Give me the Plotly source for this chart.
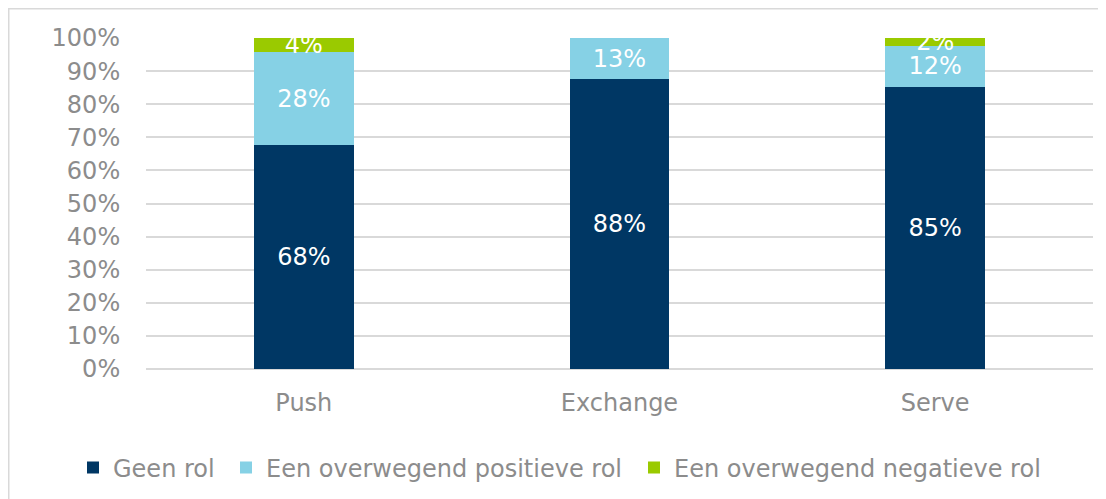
import math
import plotly.graph_objects as go

categories = ["Push", "Exchange", "Serve"]
series_names = ["Geen rol", "Een overwegend positieve rol", "Een overwegend negatieve rol"]
geen_rol = [67.6, 87.5, 85.2]
positief = [28.2, 12.5, 12.4]
negatief = [4.2, 0.0, 2.4]
colors = ["#003764", "#86D1E5", "#9ACA00"]
tick_vals = [0, 10, 20, 30, 40, 50, 60, 70, 80, 90, 100]
tick_text = [f"{v}%" for v in tick_vals]

FONT = "DejaVu Sans, Verdana, sans-serif"
GRAY = "#8C8C8C"
FS = 24


def label(v):
    return f"{int(math.floor(v + 0.5))}%" if v > 0 else ""


# page body has an 8px margin; figure is sized to fit inside the window
W, H = 1098, 491
L, R, T = 138, 13, 30
B = H - 361
pw = W - L - R
ph = H - T - B

legend_ids = ["legend", "legend2", "legend3"]
legend_text_x = [115, 268, 676]  # window px where legend text starts

fig = go.Figure()
for name, vals, col, lid in zip(series_names, [geen_rol, positief, negatief], colors, legend_ids):
    fig.add_trace(go.Bar(
        x=categories, y=vals, name=name, legend=lid,
        marker=dict(color=col, line=dict(width=0)),
        text=[label(v) for v in vals],
        textposition="inside", insidetextanchor="middle", textangle=0,
        textfont=dict(color="white", size=FS, family=FONT),
        hoverinfo="skip",
    ))

legend_common = dict(orientation="h", xref="container", yref="container",
                     xanchor="left", yanchor="middle", y=1 - 460 / H,
                     font=dict(size=FS, color=GRAY, family=FONT),
                     itemwidth=30, bgcolor="rgba(0,0,0,0)", borderwidth=0)
legends = {}
for lid, tx in zip(legend_ids, legend_text_x):
    legends[lid] = dict(legend_common, x=(tx - 8 - 42) / W)

fig.update_layout(
    barmode="stack", bargap=0.684,
    width=W, height=H,
    margin=dict(l=L, r=R, t=T, b=B, pad=0, autoexpand=False),
    paper_bgcolor="white", plot_bgcolor="white",
    font=dict(family=FONT, size=FS, color=GRAY),
    uniformtext=dict(mode="show", minsize=FS),
    showlegend=True,
    **legends,
    xaxis=dict(showgrid=False, showline=False, ticks="outside", ticklen=12,
               tickcolor="rgba(0,0,0,0)", tickfont=dict(size=FS, color=GRAY)),
    yaxis=dict(range=[0, 100], tickvals=tick_vals, ticktext=tick_text,
               showgrid=True, gridcolor="#D9D9D9", gridwidth=1.5,
               zeroline=True, zerolinecolor="#D9D9D9", zerolinewidth=1.5,
               showline=False, ticks="outside", ticklen=20,
               tickcolor="rgba(0,0,0,0)", tickfont=dict(size=FS, color=GRAY)),
    shapes=[dict(type="rect", xref="paper", yref="paper",
                 x0=(0.75 - L) / pw, x1=(W + 10 - L) / pw,
                 y0=-(H + 10 - (T + ph)) / ph, y1=(T + ph - 0.75) / ph,
                 line=dict(color="#D9D9D9", width=1.5), fillcolor="rgba(0,0,0,0)",
                 layer="below")],
)

fig.write_html("out.html")
